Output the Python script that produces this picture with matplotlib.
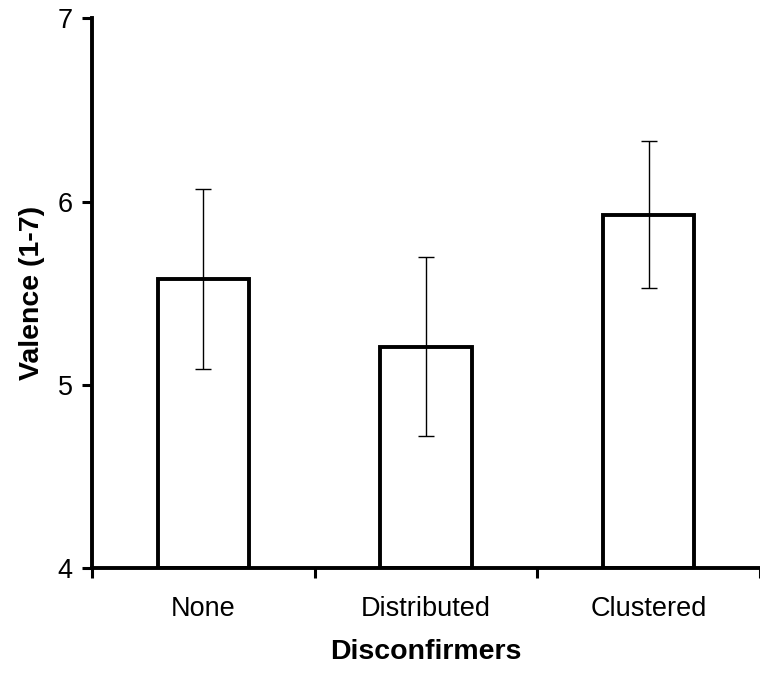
import numpy as np
import matplotlib
matplotlib.use("Agg")
import matplotlib.pyplot as plt

plt.rcParams['font.family'] = ['Liberation Sans', 'DejaVu Sans']

# data
categories = ["None", "Distributed", "Clustered"]
means = [5.58, 5.21, 5.93]
errors = [0.49, 0.49, 0.40]
y_ticks = [4, 5, 6, 7]

W, H = 760, 674
fig = plt.figure(figsize=(W / 100, H / 100), dpi=100)
left, right, top, bottom = 92, 760, 18.4, 568.3
ax = fig.add_axes([left / W, 1 - bottom / H, (right - left) / W, (bottom - top) / H])

x = np.arange(len(categories))
ax.bar(x, np.array(means) - 4, bottom=4, width=0.41, color='white',
       edgecolor='black', linewidth=2.8, zorder=2)
ax.errorbar(x, means, yerr=errors, fmt='none', ecolor='black',
            elinewidth=1.0, capsize=5.8, capthick=1.0, zorder=3)

ax.set_ylim(4, 7)
ax.set_xlim(-0.5, -0.5 + (right - left) / 224)
ax.set_yticks(y_ticks)
ax.set_yticklabels([str(t) for t in y_ticks], fontsize=19.5)

# category boundary ticks, labels at centres
ax.set_xticks([-0.5, 0.5, 1.5, 2.5])
ax.set_xticklabels([])
ax.set_xticks(x, minor=True)
ax.set_xticklabels(categories, minor=True, fontsize=19.5)
ax.tick_params(axis='x', which='minor', length=0, pad=20)
ax.tick_params(axis='x', which='major', length=7, width=2.2, direction='out')
ax.tick_params(axis='y', length=7, width=2.2, direction='out', pad=7)

for side in ['top', 'right']:
    ax.spines[side].set_visible(False)
for side in ['left', 'bottom']:
    ax.spines[side].set_linewidth(2.8)

ax.set_ylabel("Valence (1-7)", fontsize=20.5, fontweight='bold', labelpad=9)
ax.set_xlabel("Disconfirmers", fontsize=20.5, fontweight='bold', labelpad=12)

fig.savefig("out.png", dpi=100)
